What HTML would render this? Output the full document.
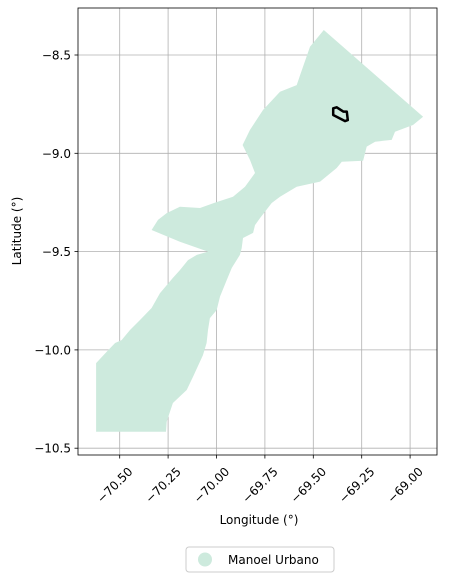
<!DOCTYPE html>
<html><head><meta charset="utf-8"><style>
body{margin:0;background:#fff;font-family:"Liberation Sans","DejaVu Sans",sans-serif;}
svg text{font-family:"DejaVu Sans","Liberation Sans",sans-serif;font-size:12px;fill:#000;}
</style></head><body>
<svg id="chart" width="450" height="582" viewBox="0 0 450 582">
<g id="grid"></g>
<g id="shapes"></g>
<rect x="78" y="8" width="359" height="447" fill="none" stroke="#000" stroke-width="0.8"/>
<g id="ticks"></g>
<text x="259" y="524" text-anchor="middle">Longitude (°)</text>
<text transform="translate(21,231) rotate(-90)" text-anchor="middle">Latitude (°)</text>
<g>
<rect x="186" y="547" width="148" height="25" rx="3" fill="#fff" stroke="#ccc"/>
<circle cx="205" cy="559.5" r="7" fill="#cdeadd"/>
<text x="228" y="564">Manoel Urbano</text>
</g>
</svg>
<script>
const xTicks=[-70.5,-70.25,-70.0,-69.75,-69.5,-69.25,-69.0];
const xTickLabels=["−70.50","−70.25","−70.00","−69.75","−69.50","−69.25","−69.00"];
const yTicks=[-8.5,-9.0,-9.5,-10.0,-10.5];
const yTickLabels=["−8.5","−9.0","−9.5","−10.0","−10.5"];
const regionLon=[-69.446,-68.933,-68.985,-69.078,-69.095,-69.181,-69.224,-69.243,-69.353,-69.379,-69.465,-69.586,-69.672,-69.715,-69.775,-69.801,-69.811,-69.863,-69.870,-69.879,-69.921,-69.947,-69.982,-69.999,-70.034,-70.044,-70.051,-70.070,-70.121,-70.154,-70.225,-70.240,-70.257,-70.261,-70.622,-70.622,-70.567,-70.524,-70.490,-70.447,-70.395,-70.335,-70.292,-70.225,-70.189,-70.147,-70.102,-70.044,-70.189,-70.335,-70.302,-70.257,-70.189,-70.085,-70.008,-69.915,-69.853,-69.801,-69.827,-69.865,-69.827,-69.760,-69.672,-69.586,-69.568,-69.517];
const regionLat=[-8.373,-8.814,-8.856,-8.890,-8.932,-8.941,-8.966,-9.038,-9.043,-9.075,-9.144,-9.170,-9.221,-9.253,-9.329,-9.365,-9.405,-9.431,-9.482,-9.517,-9.583,-9.644,-9.729,-9.797,-9.838,-9.899,-9.965,-10.027,-10.136,-10.204,-10.270,-10.314,-10.365,-10.416,-10.416,-10.067,-10.009,-9.965,-9.950,-9.899,-9.848,-9.787,-9.711,-9.634,-9.594,-9.543,-9.517,-9.500,-9.450,-9.390,-9.339,-9.304,-9.272,-9.278,-9.251,-9.221,-9.170,-9.100,-9.034,-8.958,-8.881,-8.780,-8.687,-8.653,-8.602,-8.458];
const markLon=[-69.397,-69.379,-69.345,-69.327,-69.322,-69.336,-69.397];
const markLat=[-8.771,-8.766,-8.788,-8.788,-8.831,-8.836,-8.805];
const NS='http://www.w3.org/2000/svg';
const xS=v=>119.7+(v+70.5)*193.6;
const yS=v=>153.3-(v+9.0)*196.6;
function mk(t,a,p){const e=document.createElementNS(NS,t);for(const k in a)e.setAttribute(k,a[k]);p.appendChild(e);return e;}
const grid=document.getElementById('grid'),ticks=document.getElementById('ticks'),shapes=document.getElementById('shapes');
xTicks.forEach((v,i)=>{const x=xS(v);
 const g=mk('line',{x1:x,x2:x,y1:8,y2:455,stroke:'#b0b0b0','stroke-width':0.8},grid);
 
 
 const t=mk('line',{x1:x,x2:x,y1:455,y2:458.5,stroke:'#000','stroke-width':0.8},ticks);
 
 
 const l=mk('text',{transform:`translate(${x-2},${488}) rotate(-45)`,'text-anchor':'middle'},ticks);
 l.textContent=xTickLabels[i];
 
 
});
yTicks.forEach((v,i)=>{const y=yS(v);
 const g=mk('line',{x1:78,x2:437,y1:y,y2:y,stroke:'#b0b0b0','stroke-width':0.8},grid);
 
 
 const t=mk('line',{x1:74.5,x2:78,y1:y,y2:y,stroke:'#000','stroke-width':0.8},ticks);
 
 
 const l=mk('text',{x:71,y:y+4.5,'text-anchor':'end'},ticks);
 l.textContent=yTickLabels[i];
 
 
});
const pts=regionLon.map((v,i)=>xS(v).toFixed(1)+','+yS(regionLat[i]).toFixed(1)).join(' ');
const poly=mk('polygon',{points:pts,fill:'#cdeadd'},shapes);


const mpts=markLon.map((v,i)=>xS(v).toFixed(1)+','+yS(markLat[i]).toFixed(1)).join(' ');
const m=mk('polygon',{points:mpts,fill:'none',stroke:'#000','stroke-width':2.5,'stroke-linejoin':'round'},shapes);


</script>
</body></html>
